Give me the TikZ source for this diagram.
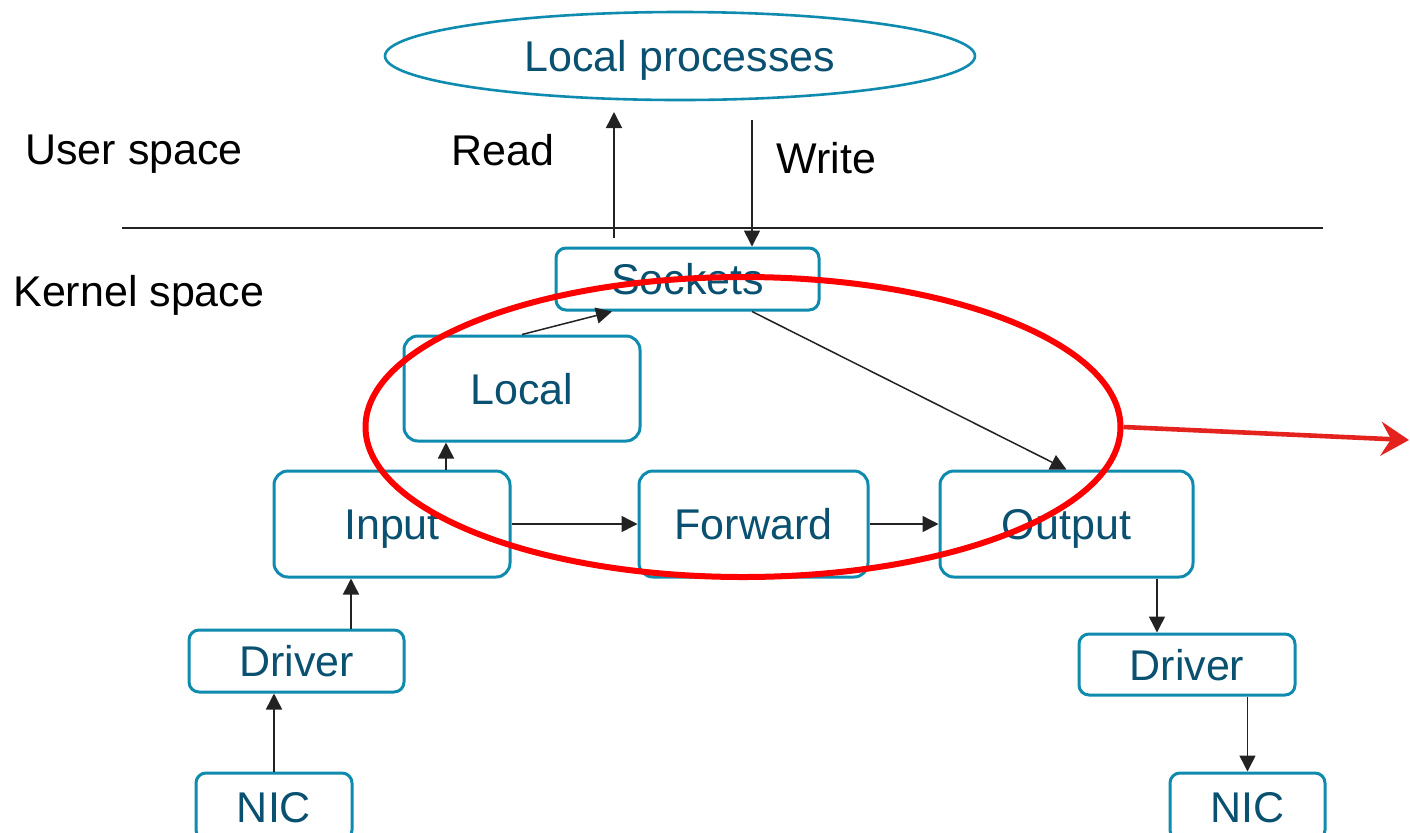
\documentclass[tikz,border=0pt]{standalone}
\usepackage{fontspec}
\setmainfont{Liberation Sans}
\usetikzlibrary{shapes.geometric,arrows.meta,calc}
\definecolor{boxline}{RGB}{14,139,174}
\definecolor{boxtext}{RGB}{10,80,112}
\definecolor{arrowgray}{RGB}{34,34,34}
\definecolor{markred}{RGB}{255,0,0}
\definecolor{pointred}{RGB}{228,34,30}
\begin{document}
\begin{tikzpicture}[x=0.5pt,y=-0.5pt,
  font=\fontsize{21.5pt}{25pt}\selectfont,
  stage/.style={draw=boxline, line width=1.5pt, rounded corners=7pt, text=boxtext,
    inner sep=0pt, minimum height=53pt, text height=15.5pt, text depth=0pt},
  small/.style={stage, rounded corners=5pt, minimum height=31pt},
  flow/.style={draw=arrowgray, line width=0.75pt, -{Triangle[length=8pt,width=8pt]}},
  lbl/.style={anchor=base west, inner sep=0pt}]
\useasboundingbox (0,0) rectangle (1410,832);
\clip (0,0) rectangle (1410,832);

% user / kernel boundary
\draw[arrowgray, line width=0.75pt] (122,228) -- (1323,228);
\node[lbl] (user) at (25,164) {User space};
\node[lbl] (kern) at (13,306) {Kernel space};
\node[lbl] (read) at (451,165) {Read};
\node[lbl] (write) at (776,173) {Write};

% processes and kernel stages
\node[draw=boxline, line width=1.3pt, ellipse, minimum width=295pt, minimum height=44pt,
  text=boxtext, inner sep=0pt, text height=15.5pt, text depth=0pt] (proc) at (680,56) {Local processes};
\node[small, minimum width=131.5pt] (sock) at (687.5,279) {Sockets};
\node[stage, minimum width=118pt, minimum height=52.5pt] (loc) at (522,388.5) {Local};
\node[stage, minimum width=118pt] (inp) at (392,524) {Input};
\node[stage, minimum width=114.5pt] (fwd) at (753.5,524) {Forward};
\node[stage, minimum width=126.5pt] (out) at (1066.5,524) {Output};
\node[small, minimum width=107.5pt] (drvL) at (296.5,661) {Driver};
\node[small, minimum width=78pt, minimum height=33.5pt] (nicL) at (274,806.5) {NIC};
\node[small, minimum width=108pt, minimum height=30.5pt] (drvR) at (1187,664.5) {Driver};
\node[small, minimum width=77.5pt, minimum height=33.5pt] (nicR) at (1247.5,806.5) {NIC};

% packet flow
\coordinate (readfoot) at (614,238);
\coordinate (readtip) at (614,112);
\coordinate (writetail) at (752,120);
\draw[flow] (readfoot) -- (readtip);
\draw[flow] (writetail) -- (writetail |- sock.north);
\draw[flow] (loc.north) -- ([xshift=-37.75pt]sock.south);
\draw[flow] ([xshift=27pt]inp.north) -- ([xshift=27pt]inp.north |- loc.south);
\draw[flow] (inp.east) -- (fwd.west);
\draw[flow] (fwd.east) -- (out.west);
\draw[flow] ([xshift=32.25pt]sock.south) -- (out.north);
\draw[flow] ([xshift=45.25pt]out.south) -- ([xshift=45.25pt]out.south |- drvR.north);
\draw[flow] (nicR.north |- drvR.south) -- (nicR.north);
\draw[flow] ([xshift=27.25pt]drvL.north) -- ([xshift=27.25pt]drvL.north |- inp.south);
\draw[flow] (nicL.north) -- (nicL.north |- drvL.south);

% highlighted netfilter hooks
\node[draw=markred, line width=3pt, ellipse, minimum width=377.5pt, minimum height=150pt,
  inner sep=0pt] (focus) at (743,427) {};
\coordinate (beyond) at (1409,440);
\draw[pointred, line width=2.3pt, -{Stealth[length=14pt,width=17pt,inset=5pt]}] (focus.east) -- (beyond);
\end{tikzpicture}
\end{document}
